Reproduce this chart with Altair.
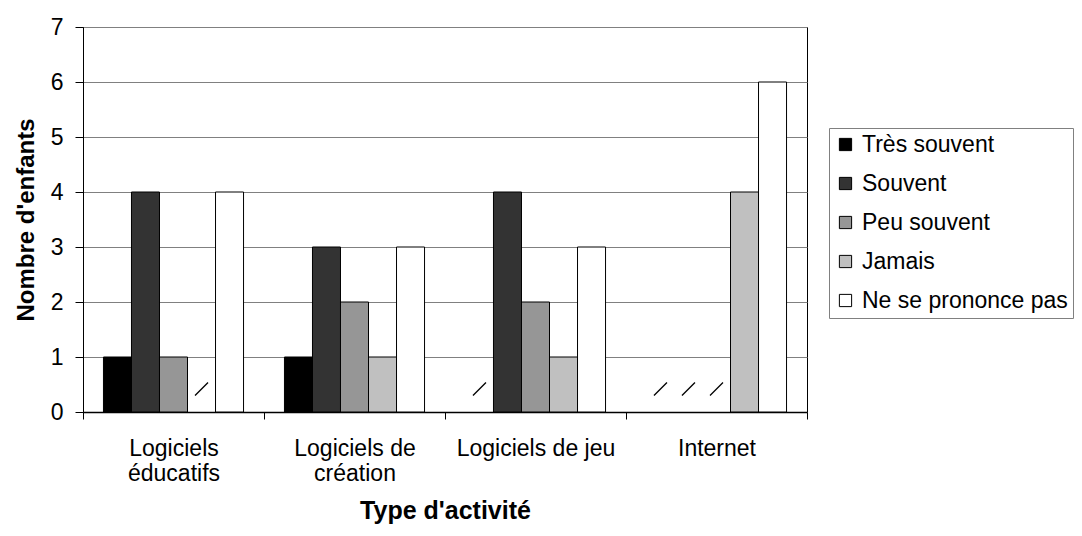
import altair as alt
import pandas as pd

categories = ["Logiciels éducatifs", "Logiciels de création", "Logiciels de jeu", "Internet"]
label_lines = [["Logiciels", "éducatifs"], ["Logiciels de", "création"], ["Logiciels de jeu"], ["Internet"]]
series = ["Très souvent", "Souvent", "Peu souvent", "Jamais", "Ne se prononce pas"]
colors = ["#000000", "#333333", "#969696", "#c0c0c0", "#ffffff"]

tres_souvent = [1, 1, 0, 0]
souvent = [4, 3, 4, 0]
peu_souvent = [1, 2, 2, 0]
jamais = [0, 1, 1, 4]
ne_se_prononce_pas = [4, 3, 3, 6]
y_ticks = [0, 1, 2, 3, 4, 5, 6, 7]

series_values = [tres_souvent, souvent, peu_souvent, jamais, ne_se_prononce_pas]
rows = []
for s, vals in zip(series, series_values):
    for c, v in zip(categories, vals):
        rows.append({"cat": c, "series": s, "value": v})
df = pd.DataFrame(rows)

# multi-line labels
expr = "datum.value"
for c, lines in reversed(list(zip(categories, label_lines))):
    arr = "[" + ",".join("'" + l + "'" for l in lines) + "]"
    expr = f"datum.value == '{c}' ? {arr} : ({expr})"

FONT = "Liberation Sans"

x_enc = alt.X(
    "cat:N",
    scale=alt.Scale(domain=categories, paddingInner=0, paddingOuter=0),
    axis=alt.Axis(
        title="Type d'activité",
        labelExpr=expr,
        labelAngle=0,
        tickBand="extent",
        tickSize=7,
        labelPadding=18,
        labelBaseline="top",
        labelLineHeight=25,
        labelFontSize=23,
        titlePadding=13,
        titleFontSize=25,
        domainWidth=1.5,
        grid=False,
    ),
)
xoff_enc = alt.XOffset(
    "series:N",
    scale=alt.Scale(domain=series, paddingOuter=0.73, paddingInner=0),
)
y_enc = alt.Y(
    "value:Q",
    scale=alt.Scale(domain=[0, 7], nice=False),
    axis=alt.Axis(
        title="Nombre d'enfants",
        values=y_ticks,
        format="d",
        tickSize=8,
        labelPadding=12,
        labelFontSize=23,
        titleFontSize=24,
        titlePadding=12,
        grid=True,
        gridColor="#808080",
        gridWidth=1,
        domainWidth=1,
    ),
)

bars = alt.Chart(df).transform_filter("datum.value > 0").mark_bar(
    stroke="black", strokeWidth=1
).encode(
    x=x_enc,
    xOffset=xoff_enc,
    y=y_enc,
    fill=alt.Fill(
        "series:N",
        scale=alt.Scale(domain=series, range=colors),
        legend=alt.Legend(
            title=None,
            orient="none",
            legendX=746,
            legendY=101,
            symbolType="square",
            symbolSize=150,
            symbolStrokeColor="black",
            symbolStrokeWidth=1,
            labelFontSize=23,
            labelFont=FONT,
            labelColor="black",
            labelOffset=5,
            rowPadding=15,
            padding=5,
            strokeColor="#808080",
            fillColor="white",
            labelLimit=400,
        ),
    ),
)

slashes = alt.Chart(df).transform_filter("datum.value == 0").mark_point(
    shape="M -1 1 L 1 -1",
    filled=False,
    stroke="black",
    strokeWidth=1.3,
    size=169,
    yOffset=-23,
    xOffset=-3,
    opacity=1,
).encode(
    x=x_enc,
    xOffset=xoff_enc,
    y=y_enc,
)

chart = alt.layer(bars, slashes).properties(
    width=724,
    height=385,
    autosize=alt.AutoSizeParams(type="none"),
    padding={"left": 75, "top": 19, "right": 267, "bottom": 116},
).configure_view(
    stroke="black", strokeWidth=1
).configure_axis(
    labelFont=FONT,
    titleFont=FONT,
    labelColor="black",
    titleColor="black",
    domainColor="black",
    tickColor="black",
    titleFontWeight="bold",
)

chart.save("out.html", embed_options={"renderer": "svg", "actions": False})
